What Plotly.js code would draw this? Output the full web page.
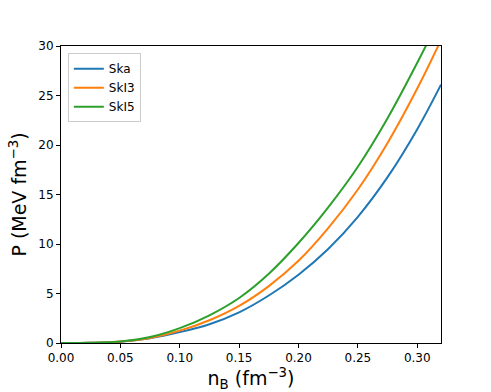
<!DOCTYPE html>
<html>
<head>
<meta charset="utf-8">
<script src="https://cdn.plot.ly/plotly-3.0.1.min.js"></script>
<style>
  body { margin: 0; background: #fff; }
  #plot { width: 491px; height: 392px; }
</style>
</head>
<body>
<div id="plot"></div>
<script>
// baryon density (fm^-3)
var nB = [0, 0.025, 0.05, 0.075, 0.10, 0.125, 0.15, 0.175, 0.20, 0.225, 0.25, 0.275, 0.30, 0.32];

// pressure (MeV fm^-3) for each Skyrme set
var pSka  = [0, 0.02, 0.13, 0.48, 1.1, 1.9, 3.1, 4.8, 6.9, 9.5, 12.75, 16.75, 21.6, 26.1];
var pSkI3 = [0, 0.02, 0.14, 0.5, 1.25, 2.3, 3.75, 5.75, 8.3, 11.6, 15.5, 20.2, 25.7, 30.6];
var pSkI5 = [0, 0.02, 0.16, 0.6, 1.5, 2.8, 4.55, 7.0, 10.1, 13.7, 17.8, 22.7, 28.3, 33.1];

var names = ["Ska", "SkI3", "SkI5"];
var colors = ["#1f77b4", "#ff7f0e", "#2ca02c"];
var series = [pSka, pSkI3, pSkI5];

var data = series.map(function (p, i) {
    return {
        x: nB,
        y: p,
        name: names[i],
        type: "scatter",
        mode: "lines",
        line: {color: colors[i], width: 2, shape: "spline", smoothing: 1}
    };
});

var axisStyle = {
    showline: true,
    linecolor: "#000",
    linewidth: 1,
    mirror: true,
    showgrid: false,
    zeroline: false,
    ticks: "outside",
    ticklen: 4,
    tickwidth: 1,
    tickcolor: "#000",
    tickfont: {family: "DejaVu Sans", size: 12, color: "#000"}
};

var layout = {
    width: 491,
    height: 392,
    margin: {l: 61, r: 50, t: 46, b: 49},
    paper_bgcolor: "#fff",
    plot_bgcolor: "#fff",
    font: {family: "DejaVu Sans", color: "#000"},
    showlegend: true,
    legend: {
        x: 0.018, y: 0.976, xanchor: "left", yanchor: "top",
        bordercolor: "#cccccc", borderwidth: 1, bgcolor: "rgba(255,255,255,0.8)",
        font: {family: "DejaVu Sans", size: 12, color: "#000"},
        tracegroupgap: 0
    },
    xaxis: Object.assign({}, axisStyle, {
        range: [0, 0.32],
        tickvals: [0, 0.05, 0.10, 0.15, 0.20, 0.25, 0.30],
        ticktext: ["0.00", "0.05", "0.10", "0.15", "0.20", "0.25", "0.30"],
        title: {text: "n<sub>B</sub> (fm<sup>\u22123</sup>)", font: {family: "DejaVu Sans", size: 19}, standoff: 8}
    }),
    yaxis: Object.assign({}, axisStyle, {
        range: [0, 30],
        tickvals: [0, 5, 10, 15, 20, 25, 30],
        title: {text: "P (MeV fm<sup>\u22123</sup>)", font: {family: "DejaVu Sans", size: 19}, standoff: 6}
    })
};

Plotly.newPlot("plot", data, layout, {displayModeBar: false, staticPlot: true});
</script>
</body>
</html>
